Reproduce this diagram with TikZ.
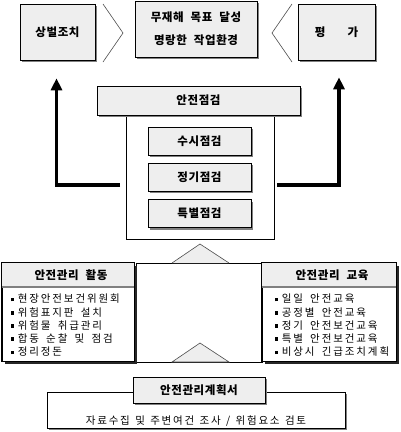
\documentclass[tikz,border=0pt]{standalone}
\usepackage{fontspec}
\setmainfont{Noto Sans CJK KR}
\newfontfamily\bodyfont{Noto Sans CJK KR}[LetterSpace=18,WordSpace=1.7]
\newfontfamily\planfont{Noto Sans CJK KR}[LetterSpace=17,WordSpace=1.3]
\newfontfamily\headfont{Noto Sans CJK KR}[LetterSpace=5,WordSpace=2.2]
\usetikzlibrary{arrows.meta,shadows}
\definecolor{lg}{HTML}{EEEEEE}
\definecolor{sh}{HTML}{808080}
\newcommand{\sqb}{\raisebox{1.6pt}{\rule{3.6pt}{3.6pt}}\hspace{3.5pt}}
\begin{document}
\begin{tikzpicture}[x=1pt,y=-1pt,
  gbox/.style={draw=black, line width=0.6pt, fill=lg, inner sep=0pt,
    drop shadow={shadow xshift=2.2pt, shadow yshift=-2.2pt, fill=sh, opacity=1}},
  wbox/.style={draw=black, line width=0.6pt, fill=white, inner sep=0pt},
  sbox/.style={draw=black, line width=0.6pt, fill=white, inner sep=0pt,
    drop shadow={shadow xshift=2.6pt, shadow yshift=-2.6pt, fill=black!85, opacity=1}},
  hd/.style={font=\headfont\fontsize{11.5}{13}\selectfont\bfseries},
  it/.style={font=\bodyfont\fontsize{10.5}{13}\selectfont, anchor=west, inner sep=0pt},
  bigarrow/.style={line width=3.2pt, -{Triangle[width=11pt,length=12pt]}},
  chev/.style={draw=black!70, line width=0.6pt},
  tri/.style={draw=black!70, line width=0.6pt, fill=lg},
]
\useasboundingbox (0,0) rectangle (400,432);

% top row
\node[gbox, minimum width=75pt, minimum height=56pt] (sb) at (57.5,32) {};
\node[hd] (sbt) at (sb.center) {상벌조치};
\node[gbox, minimum width=122pt, minimum height=56pt] (goal) at (196,29) {};
\node[align=center, font=\headfont\fontsize{11.5}{23}\selectfont\bfseries] (goalt) at (goal.center) {무재해 목표 달성\\명랑한 작업환경};
\node[gbox, minimum width=77pt, minimum height=56pt] (pg) at (336.5,32) {};
\node[hd] (pgt) at (pg.center) {평\hspace{22pt}가};
\draw[chev] (103,4) -- (123,33) -- (103,62);
\draw[chev] (292,4) -- (272,33) -- (292,62);

% inspection group
\node[wbox, minimum width=148pt, minimum height=124pt] (outer) at (200,177) {};
\node[gbox, minimum width=203pt, minimum height=29pt] (head) at (198.5,100.5) {};
\node[hd] (headt) at (head.center) {안전점검};
\node[gbox, minimum width=103pt, minimum height=28pt] (i1) at (199.5,141) {};
\node[hd] at (i1.center) {수시점검};
\node[gbox, minimum width=103pt, minimum height=28pt] (i2) at (199.5,177) {};
\node[hd] at (i2.center) {정기점검};
\node[gbox, minimum width=103pt, minimum height=28pt] (i3) at (199.5,213.5) {};
\node[hd] at (i3.center) {특별점검};

% arrows
\coordinate (la) at (120,185);
\coordinate (ra) at (277,185);
\draw[bigarrow] (la) -| ([xshift=-1pt,yshift=-18pt]sb.south);
\draw[bigarrow] (ra) -| ([xshift=2.5pt,yshift=-17pt]pg.south);

% middle
\node[wbox, minimum width=126pt, minimum height=99pt] (mid) at (199,312.5) {};
\draw[tri] (172,263) -- (200,244) -- (229,263);
\draw[tri] (172,362) -- (200,343) -- (229,362) -- cycle;

% left box
\node[sbox, minimum width=132pt, minimum height=98pt] (lb) at (68,312) {};
\fill[lg] ([shift={(0.3pt,-0.3pt)}]lb.north west) rectangle (133.7,287);
\draw[sh, line width=1.6pt] (2.3,287) -- (133.7,287);
\draw[line width=0.6pt] (lb.north west) rectangle (lb.south east);
\node[hd] (lbt) at (71,275) {안전관리 활동};
\foreach \t [count=\i] in {현장안전보건위원회, 위험표지판 설치, 위험물 취급관리, 합동 순찰 및 점검, 정리정돈}
  \node[it] (l\i) at (10.5, 299+13.2*\i-13.2) {\sqb\t};

% right box
\node[sbox, minimum width=134pt, minimum height=98pt] (rb) at (329,312) {};
\fill[lg] ([shift={(0.3pt,-0.3pt)}]rb.north west) rectangle (395.7,287);
\draw[sh, line width=1.6pt] (262.3,287) -- (395.7,287);
\draw[line width=0.6pt] (rb.north west) rectangle (rb.south east);
\node[hd] (rbt) at (332,275) {안전관리 교육};
\foreach \t [count=\i] in {일일 안전교육, 공정별 안전교육, 정기 안전보건교육, 특별 안전보건교육, 비상시 긴급조치계획}
  \node[it] (r\i) at (274.5, 299+13.2*\i-13.2) {\sqb\t};

% bottom
\node[gbox, fill=white, minimum width=298pt, minimum height=36pt] (plan) at (196,410) {};
\node[gbox, minimum width=132pt, minimum height=26pt] (planh) at (199,390) {};
\node[hd] at (planh.center) {안전관리계획서};
\node[font=\planfont\fontsize{10.5}{13}\selectfont] (plant) at (196,421) {자료수집 및 주변여건 조사 / 위험요소 검토};
\end{tikzpicture}
\end{document}
